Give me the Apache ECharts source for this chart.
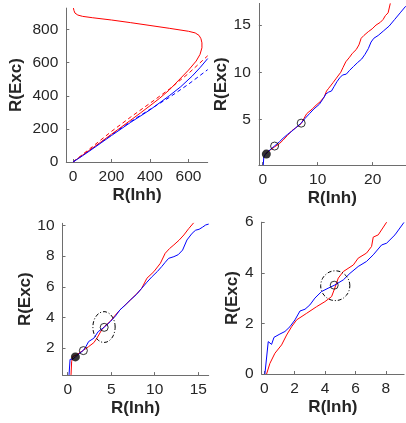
<!DOCTYPE html>
<html>
<head>
<meta charset="utf-8">
<script src="https://cdn.jsdelivr.net/npm/echarts@6/dist/echarts.min.js"></script>
<style>html,body{margin:0;padding:0;background:#fff}#c{width:406px;height:423px}</style>
</head>
<body>
<div id="c"></div>
<script>
// ---------- Panel 1 (top-left) ----------
const p1RedSolid = [[0,0],[50,42],[100,83],[150,125],[200,168],[250,210],[300,253],[350,296],[400,340],[450,385],[500,435],[550,495],[600,555],[640,610],[660,650],[670,690],[670,720],[665,745],[655,765],[635,780],[600,790],[500,808],[400,825],[300,842],[200,858],[100,872],[50,880],[25,888],[10,900],[5,915],[2,930]];
const p1RedDash = [[0,0],[100,92],[200,185],[300,272],[400,355],[500,440],[600,535],[700,642]];
const p1BlueSolid = [[0,0],[50,38],[100,78],[200,160],[300,240],[400,315],[500,400],[560,455],[620,520],[660,570],[700,625]];
const p1BlueDash = [[0,0],[100,82],[200,165],[300,245],[400,318],[500,390],[600,470],[700,558]];
const p1XTicks = [0,200,400,600];
const p1YTicks = [0,200,400,600,800];

// ---------- Panel 2 (top-right) ----------
const p2Blue = [[0.1,0.15],[0.2,1.0],[0.5,1.3],[1.0,1.6],[1.6,1.9],[2.2,2.2],[3.0,2.6],[3.7,3.0],[4.5,3.4],[5.2,3.7],[6.0,4.1],[7.0,4.6],[7.7,5.1],[8.5,5.6],[9.3,6.1],[10.3,6.6],[11.0,7.2],[11.5,7.7],[12.0,7.9],[12.5,8.0],[13.0,8.5],[13.5,9.0],[14.0,9.4],[14.5,9.7],[15.2,9.8],[15.8,10.2],[16.5,10.6],[17.2,11.0],[18.0,11.4],[18.6,11.9],[19.2,12.5],[19.7,13.2],[20.2,13.6],[21.0,13.9],[22.0,14.4],[23.0,14.9],[24.0,15.6],[25.0,16.3],[26.0,17.0]];
const p2Red = [[0.5,1.3],[1.0,1.6],[1.6,1.85],[2.2,2.1],[3.0,2.4],[3.7,2.8],[4.5,3.3],[5.3,3.8],[6.0,4.1],[7.0,4.55],[7.5,5.1],[8.0,5.6],[9.0,6.1],[9.7,6.5],[10.5,6.9],[11.2,7.4],[11.6,8.0],[12.0,8.3],[12.8,8.9],[13.3,9.3],[14.2,10.0],[14.6,10.5],[15.1,11.1],[15.8,11.6],[16.3,12.0],[17.0,12.4],[17.5,12.9],[17.9,13.6],[18.4,13.9],[19.2,14.3],[19.9,14.6],[20.6,15.0],[21.4,15.3],[21.9,15.6],[22.3,16.0],[22.8,16.3],[23.2,17.3]];
const p2Filled = [[0.66,1.32]];
const p2Open = [[2.16,2.17],[7.0,4.6]];
const p2XTicks = [0,10,20];
const p2YTicks = [5,10,15];

// ---------- Panel 3 (bottom-left) ----------
const p3Blue = [[0.15,0.24],[0.27,1.26],[0.45,1.3],[0.6,1.28],[0.88,1.42],[1.4,1.66],[1.8,1.85],[2.1,2.1],[2.4,2.42],[3.0,2.64],[3.5,3.07],[4.2,3.36],[4.9,3.73],[5.5,4.1],[6.0,4.49],[6.6,4.8],[7.2,5.14],[7.9,5.5],[8.5,5.9],[9.1,6.3],[9.7,6.67],[10.3,7.0],[10.8,7.32],[11.2,7.6],[11.6,7.86],[12.2,7.97],[12.7,8.1],[13.2,8.4],[13.7,9.06],[14.3,9.5],[14.7,9.7],[15.1,9.76],[15.5,9.9],[15.85,10.04],[16.2,10.1]];
const p3Red = [[0.38,0.24],[0.45,1.1],[0.58,1.44],[1.0,1.55],[1.8,1.85],[2.4,2.09],[3.0,2.35],[3.35,2.64],[3.9,3.18],[4.2,3.4],[4.9,3.75],[5.65,4.27],[6.2,4.6],[6.8,4.92],[7.4,5.25],[8.0,5.58],[8.5,5.9],[9.1,6.56],[9.9,6.99],[10.65,7.54],[11.2,8.19],[11.7,8.5],[12.2,8.74],[12.8,9.05],[13.35,9.39],[13.9,9.8],[14.5,10.2]];
const p3Filled = [[0.88,1.42]];
const p3Open = [[1.8,1.83],[4.19,3.35]];
const p3Ellipse = [4.17,3.37,1.28,1.01]; // cx, cy, rx, ry
const p3XTicks = [0,5,10,15];
const p3YTicks = [2,4,6,8,10];

// ---------- Panel 4 (bottom-right) ----------
const p4Blue = [[0.04,0],[0.26,1.28],[0.48,1.17],[0.64,1.45],[1.03,1.58],[1.36,1.68],[1.69,1.87],[2.02,2.14],[2.35,2.49],[2.68,2.56],[3.0,2.73],[3.33,3.0],[3.77,3.26],[4.2,3.39],[4.65,3.52],[5.2,3.72],[5.64,3.98],[6.18,4.25],[6.73,4.45],[7.17,4.71],[7.72,5.1],[8.05,5.17],[8.6,5.5],[9.19,5.99]];
const p4Red = [[0.15,0],[0.37,0.42],[0.7,0.82],[1.14,1.15],[1.47,1.54],[1.8,1.87],[2.13,2.14],[2.79,2.4],[3.44,2.66],[3.99,2.86],[4.43,3.06],[4.61,3.35],[4.87,3.79],[5.2,4.05],[5.86,4.31],[6.18,4.58],[6.73,4.78],[7.06,5.04],[7.17,5.41],[7.5,5.5],[8.05,6.0]];
const p4Open = [[4.6,3.51]];
const p4Ellipse = [4.67,3.49,0.96,0.59];
const p4XTicks = [0,2,4,6,8];
const p4YTicks = [0,2,4,6];

const RED = '#ff0000', BLUE = '#0000ff';
const AXC = '#6e6e6e', TXT = '#262626';
const FONT = '"Liberation Sans", Arial, sans-serif';

function ellipsePts(e){
  const pts = [];
  for (let i = 0; i <= 72; i++) {
    const t = i / 72 * 2 * Math.PI;
    pts.push([e[0] + e[2] * Math.cos(t), e[1] + e[3] * Math.sin(t)]);
  }
  return pts;
}

function xAx(idx, min, max, ticks, gap){
  return {gridIndex: idx, type: 'value', min: min, max: max,
    name: 'R(Inh)', nameLocation: 'middle', nameGap: gap,
    nameTextStyle: {fontFamily: FONT, fontWeight: 'bold', fontSize: 17, color: TXT},
    axisLine: {show: true, onZero: false, lineStyle: {color: AXC, width: 1}},
    axisTick: {show: true, inside: true, length: 3, customValues: ticks, lineStyle: {color: AXC}},
    axisLabel: {customValues: ticks, margin: 7, fontFamily: FONT, fontSize: 15.5, color: TXT},
    splitLine: {show: false}};
}
function yAx(idx, min, max, ticks, gap){
  return {gridIndex: idx, type: 'value', min: min, max: max,
    name: 'R(Exc)', nameLocation: 'middle', nameGap: gap, nameRotate: 90,
    nameTextStyle: {fontFamily: FONT, fontWeight: 'bold', fontSize: 17, color: TXT},
    axisLine: {show: true, onZero: false, lineStyle: {color: AXC, width: 1}},
    axisTick: {show: true, inside: true, length: 3, customValues: ticks, lineStyle: {color: AXC}},
    axisLabel: {customValues: ticks, margin: 8, fontFamily: FONT, fontSize: 15.5, color: TXT},
    splitLine: {show: false}};
}
function line(idx, data, color, dashed){
  return {type: 'line', xAxisIndex: idx, yAxisIndex: idx, data: data, showSymbol: false,
    symbol: 'none', animation: false, clip: true,
    lineStyle: {color: color, width: 1, type: dashed ? [4, 3] : 'solid'}, z: 2};
}
function ell(idx, e){
  return {type: 'line', xAxisIndex: idx, yAxisIndex: idx, data: ellipsePts(e), showSymbol: false,
    symbol: 'none', animation: false, smooth: false,
    lineStyle: {color: '#000', width: 1, type: [4, 2, 1, 2]}, z: 3};
}
function dots(idx, data, filled){
  return {type: 'scatter', xAxisIndex: idx, yAxisIndex: idx, data: data, symbol: 'circle',
    symbolSize: filled ? 9 : 8, animation: false,
    itemStyle: filled ? {color: '#000'} : {color: 'rgba(0,0,0,0)', borderColor: '#000', borderWidth: 1}, z: 4};
}

const option = {
  animation: false,
  backgroundColor: '#fff',
  grid: [
    {left: 66.3, top: 8.1, width: 141.4, height: 153.9},
    {left: 258.85, top: 3.4, width: 146.85, height: 161.7},
    {left: 62.5, top: 223.3, width: 146.2, height: 151.8},
    {left: 261.7, top: 222.2, width: 142.4, height: 151.8}
  ],
  xAxis: [
    xAx(0, -35, 700, p1XTicks, 25),
    xAx(1, -0.7, 26, p2XTicks, 25),
    xAx(2, -0.6, 16.2, p3XTicks, 25),
    xAx(3, -0.17, 9.2, p4XTicks, 25)
  ],
  yAxis: [
    yAx(0, 0, 930, p1YTicks, 41),
    yAx(1, 0.15, 17.3, p2YTicks, 28),
    yAx(2, 0.23, 10.15, p3YTicks, 29),
    yAx(3, 0, 6.0, p4YTicks, 19)
  ],
  series: [
    line(0, p1RedDash, RED, true),
    line(0, p1BlueDash, BLUE, true),
    line(0, p1RedSolid, RED, false),
    line(0, p1BlueSolid, BLUE, false),
    line(1, p2Red, RED, false),
    line(1, p2Blue, BLUE, false),
    dots(1, p2Filled, true),
    dots(1, p2Open, false),
    line(2, p3Red, RED, false),
    line(2, p3Blue, BLUE, false),
    ell(2, p3Ellipse),
    dots(2, p3Filled, true),
    dots(2, p3Open, false),
    line(3, p4Red, RED, false),
    line(3, p4Blue, BLUE, false),
    ell(3, p4Ellipse),
    dots(3, p4Open, false)
  ]
};
const chart = echarts.init(document.getElementById('c'), null, {renderer: 'canvas'});
chart.setOption(option);
</script>
</body>
</html>
